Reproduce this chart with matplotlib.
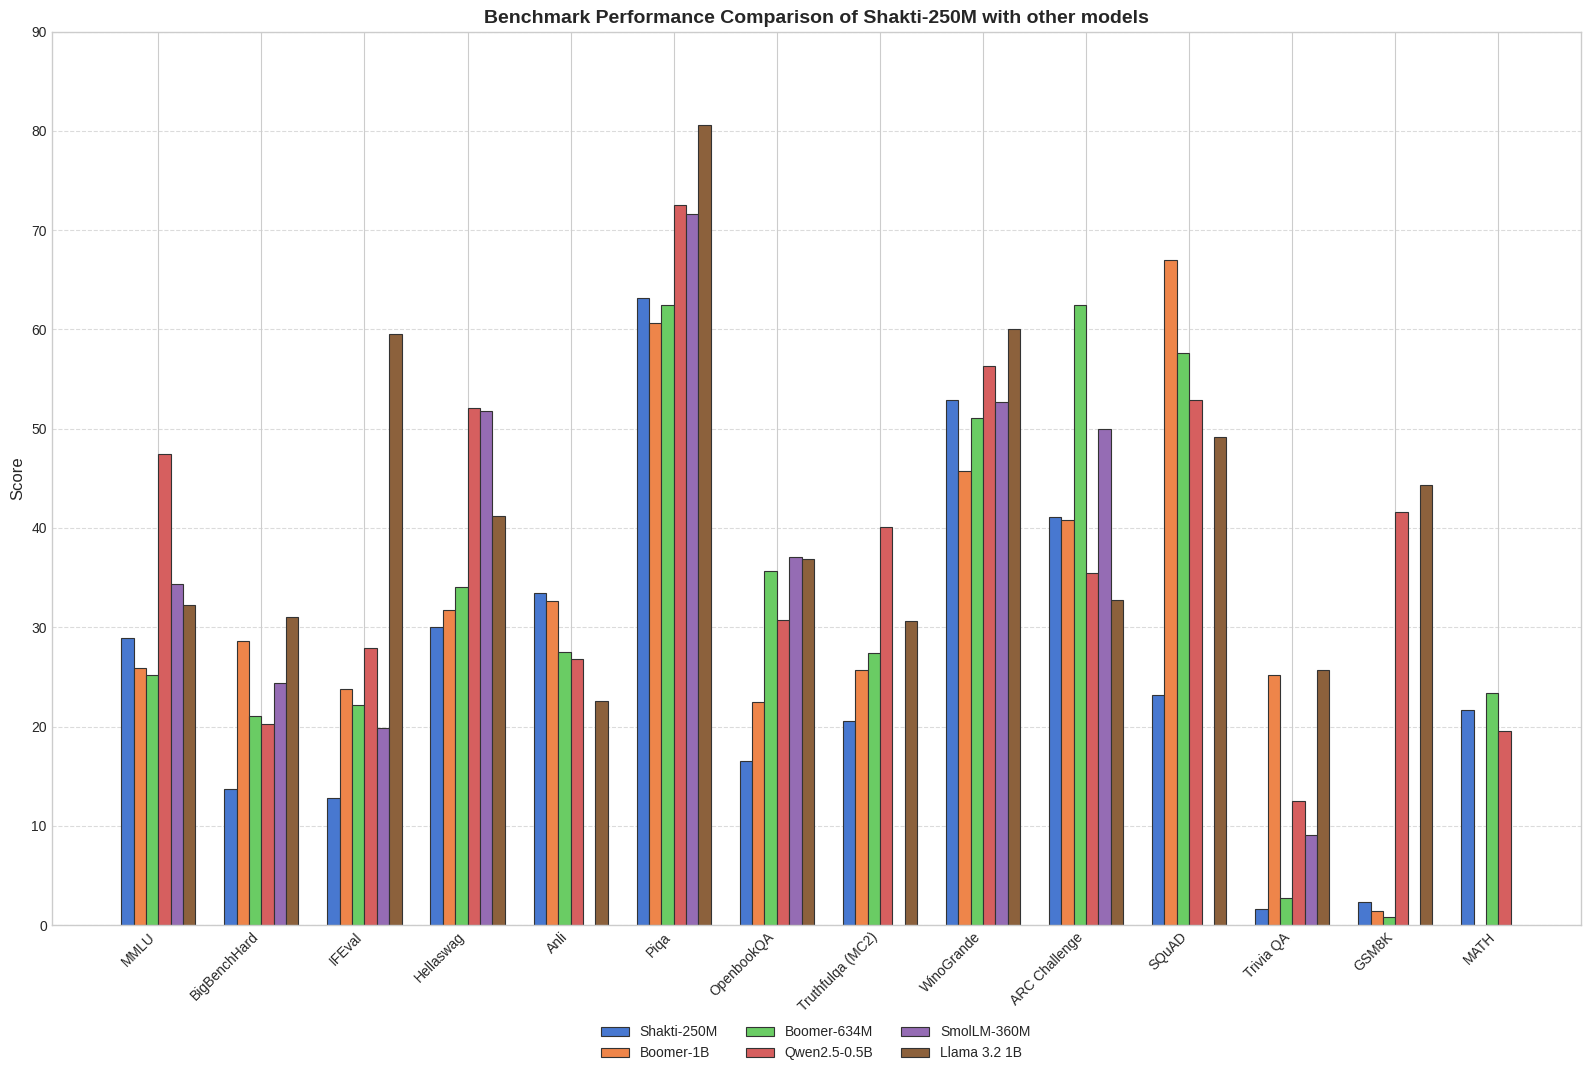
import numpy as np
import matplotlib
matplotlib.use("Agg")
import matplotlib.pyplot as plt

benchmarks = ["MMLU", "BigBenchHard", "IFEval", "Hellaswag", "Anli", "Piqa",
              "OpenbookQA", "Truthfulqa (MC2)", "WinoGrande", "ARC Challenge",
              "SQuAD", "Trivia QA", "GSM8K", "MATH"]

nan = np.nan
shakti_250m = [28.9, 13.7, 12.8, 30.0, 33.4, 63.2, 16.5, 20.6, 52.9, 41.1, 23.2, 1.6, 2.3, 21.7]
boomer_1b = [25.9, 28.6, 23.8, 31.7, 32.6, 60.7, 22.5, 25.7, 45.7, 40.8, 67.0, 25.2, 1.4, nan]
boomer_634m = [25.2, 21.1, 22.2, 34.1, 27.5, 62.5, 35.7, 27.4, 51.1, 62.5, 57.6, 2.7, 0.8, 23.4]
qwen_05b = [47.5, 20.3, 27.9, 52.1, 26.8, 72.5, 30.7, 40.1, 56.3, 35.5, 52.9, 12.5, 41.6, 19.5]
smollm_360m = [34.4, 24.4, 19.8, 51.8, nan, 71.6, 37.1, nan, 52.7, 50.0, nan, 9.1, nan, nan]
llama_1b = [32.2, 31.0, 59.5, 41.2, 22.6, 80.6, 36.9, 30.6, 60.0, 32.7, 49.2, 25.7, 44.3, nan]

series = [
    ("Shakti-250M", shakti_250m),
    ("Boomer-1B", boomer_1b),
    ("Boomer-634M", boomer_634m),
    ("Qwen2.5-0.5B", qwen_05b),
    ("SmolLM-360M", smollm_360m),
    ("Llama 3.2 1B", llama_1b),
]
colors = ["#4878d0", "#ee854a", "#6acc64", "#d65f5f", "#956cb4", "#8c613c"]

plt.style.use("seaborn-v0_8-whitegrid")
plt.rcParams["font.family"] = ["Liberation Sans", "DejaVu Sans"]

fig, ax = plt.subplots(figsize=(15.9, 10.77), dpi=100)
fig.subplots_adjust(left=0.0325, right=0.9943, top=0.9706, bottom=0.1411)

x = np.arange(len(benchmarks))
width = 0.12
for i, (name, vals) in enumerate(series):
    ax.bar(x + (i - 2.5) * width, vals, width, label=name, color=colors[i],
           edgecolor="#333333", linewidth=0.8)

ax.set_xticks(x)
ax.set_xticklabels(benchmarks, rotation=45, ha="right", fontsize=10)
ax.tick_params(axis="y", labelsize=10)
ax.set_xlim(-1.034, 13.80)
ax.set_ylim(0, 90)
ax.set_ylabel("Score", fontsize=12)
ax.set_title("Benchmark Performance Comparison of Shakti-250M with other models",
             fontsize=14, fontweight="bold")

ax.yaxis.grid(True, linestyle="--", alpha=0.7)
ax.xaxis.grid(True, linestyle="-")
ax.set_axisbelow(True)

fig.legend(loc="center", bbox_to_anchor=(0.513, 0.0316), ncol=3,
           frameon=False, fontsize=10)

fig.savefig("out.png", dpi=100)
